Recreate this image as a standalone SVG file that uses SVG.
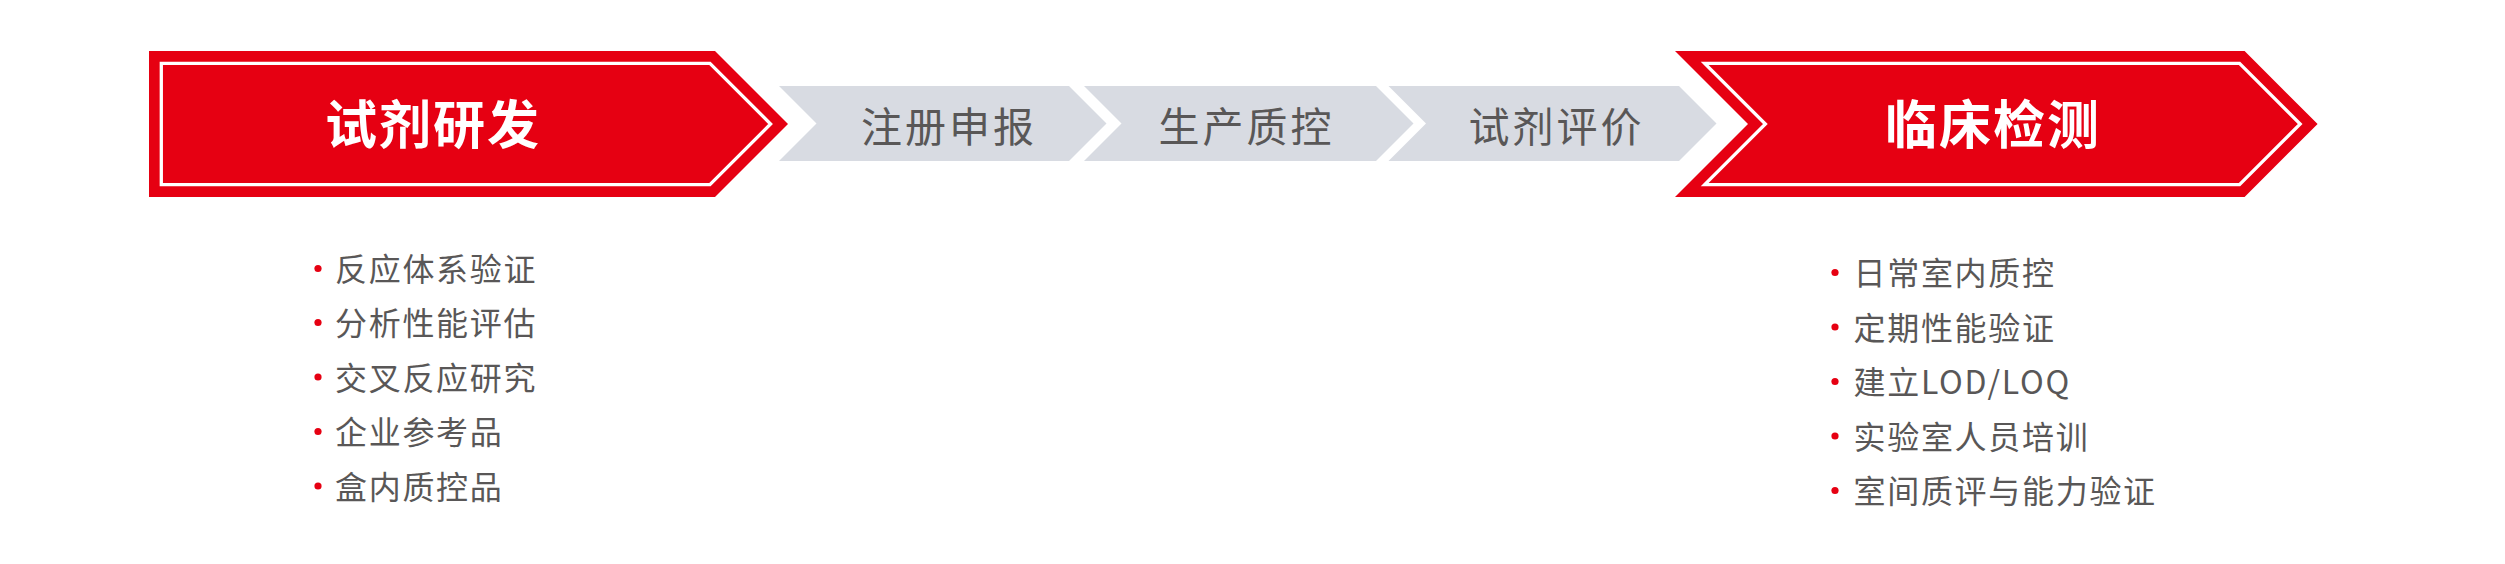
<svg xmlns="http://www.w3.org/2000/svg" width="2505" height="564" viewBox="0 0 2505 564">
  <style>
    .red { fill: #e60012; }
    .inner { fill: none; stroke: #ffffff; stroke-width: 3.3; stroke-linejoin: miter; }
    .gray { fill: #d8dbe2; }
    .title { font-family: "Noto Sans CJK SC", "Noto Sans", sans-serif; font-weight: bold; font-size: 52px; fill: #ffffff; text-anchor: middle; letter-spacing: 2px; }
    .step { font-family: "Noto Sans CJK SC", "Noto Sans", sans-serif; font-size: 41px; fill: #595757; text-anchor: middle; letter-spacing: 3px; }
    .item { font-family: "Noto Sans CJK SC", "Noto Sans", sans-serif; font-size: 32px; fill: #595757; letter-spacing: 1.7px; }
    .dot { fill: #e60012; }
  </style>
  <rect width="2505" height="564" fill="#ffffff"/>

  <g id="node-reagent-dev">
    <path class="red" d="M149,51 H715 L788,124 L715,197 H149 Z"/>
    <path class="inner" d="M161.3,63.3 H709.9 L770.6,124 L709.9,184.7 H161.3 Z"/>
    <text class="title" x="433" y="143.5">试剂研发</text>
  </g>

  <g id="node-registration">
    <path class="gray" d="M779,86 H1069 L1106.5,123.5 L1069,161 H779 L816.5,123.5 Z"/>
    <text class="step" x="949" y="142">注册申报</text>
  </g>

  <g id="node-production-qc">
    <path class="gray" d="M1084,86 H1376 L1413.5,123.5 L1376,161 H1084 L1121.5,123.5 Z"/>
    <text class="step" x="1246.5" y="142">生产质控</text>
  </g>

  <g id="node-reagent-eval">
    <path class="gray" d="M1388.5,86 H1679 L1716.5,123.5 L1679,161 H1388.5 L1426,123.5 Z"/>
    <text class="step" x="1556.5" y="142">试剂评价</text>
  </g>

  <g id="node-clinical-testing">
    <path class="red" d="M1675,51 H2244.6 L2317.6,124 L2244.6,197 H1675 L1748,124 Z"/>
    <path class="inner" d="M1704.7,63.3 H2239.5 L2300.2,124 L2239.5,184.7 H1704.7 L1765.4,124 Z"/>
    <text class="title" x="1993" y="143.5">临床检测</text>
  </g>

  <g id="connectors"></g>

  <g id="list-reagent-dev">
    <circle class="dot" cx="318" cy="268.5" r="3.6"/>
    <text class="item" x="335" y="281">反应体系验证</text>
    <circle class="dot" cx="318" cy="322.5" r="3.6"/>
    <text class="item" x="335" y="335">分析性能评估</text>
    <circle class="dot" cx="318" cy="377" r="3.6"/>
    <text class="item" x="335" y="389.5">交叉反应研究</text>
    <circle class="dot" cx="318" cy="431.5" r="3.6"/>
    <text class="item" x="335" y="444">企业参考品</text>
    <circle class="dot" cx="318" cy="486" r="3.6"/>
    <text class="item" x="335" y="498.5">盒内质控品</text>
  </g>

  <g id="list-clinical-testing">
    <circle class="dot" cx="1835" cy="272.5" r="3.6"/>
    <text class="item" x="1853.5" y="285">日常室内质控</text>
    <circle class="dot" cx="1835" cy="327" r="3.6"/>
    <text class="item" x="1853.5" y="339.5">定期性能验证</text>
    <circle class="dot" cx="1835" cy="381.5" r="3.6"/>
    <text class="item" x="1853.5" y="394">建立LOD/LOQ</text>
    <circle class="dot" cx="1835" cy="436" r="3.6"/>
    <text class="item" x="1853.5" y="448.5">实验室人员培训</text>
    <circle class="dot" cx="1835" cy="490.5" r="3.6"/>
    <text class="item" x="1853.5" y="503">室间质评与能力验证</text>
  </g>
</svg>
